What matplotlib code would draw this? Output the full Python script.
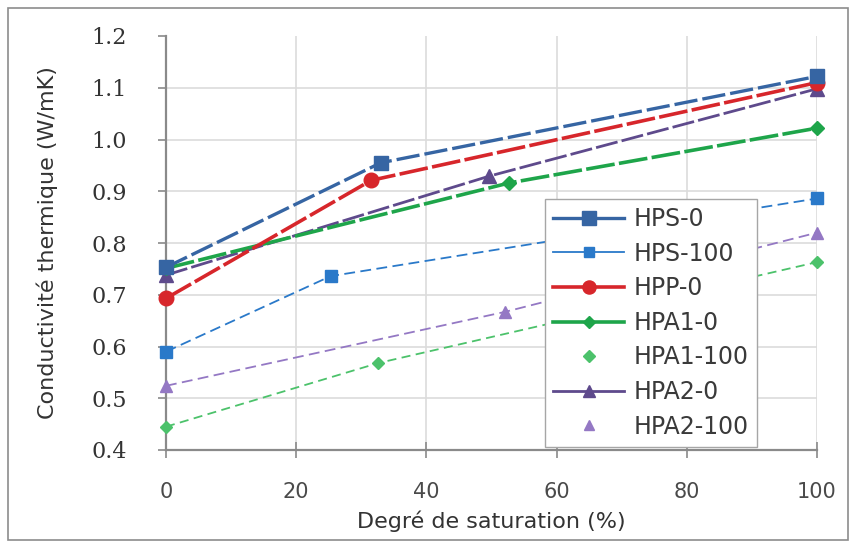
import matplotlib
matplotlib.use("Agg")
import matplotlib.pyplot as plt
from matplotlib.lines import Line2D
from matplotlib.patches import Rectangle

# Thermal conductivity vs. degree of saturation
series_names = ["HPS-0", "HPS-100", "HPP-0", "HPA1-0", "HPA1-100", "HPA2-0", "HPA2-100"]

hps0_x = [0, 33, 100]
hps0_y = [0.753, 0.955, 1.122]
hps100_x = [0, 25.3, 100]
hps100_y = [0.590, 0.736, 0.886]
hpp0_x = [0, 31.5, 100]
hpp0_y = [0.693, 0.921, 1.110]
hpa10_x = [0, 52.7, 100]
hpa10_y = [0.751, 0.916, 1.022]
hpa1100_x = [0, 32.6, 100]
hpa1100_y = [0.445, 0.568, 0.763]
hpa20_x = [0, 49.6, 100]
hpa20_y = [0.738, 0.929, 1.098]
hpa2100_x = [0, 52.1, 100]
hpa2100_y = [0.524, 0.667, 0.820]

x_ticks = [0, 20, 40, 60, 80, 100]
y_ticks = [0.4, 0.5, 0.6, 0.7, 0.8, 0.9, 1.0, 1.1, 1.2]
y_tick_labels = ["0.4", "0.5", "0.6", "0.7", "0.8", "0.9", "1.0", "1.1", "1.2"]

styles = [
    dict(color="#3665A3", marker="s", ms=10.5, lw=2.4, dashes=(7, 1.5), legline=True),
    dict(color="#2A79C9", marker="s", ms=8.0, lw=1.3, dashes=(6, 3), legline=True),
    dict(color="#D7262B", marker="o", ms=10.5, lw=2.6, dashes=(8, 1.2), legline=True),
    dict(color="#1EA54A", marker="D", ms=7.0, lw=2.6, dashes=(8, 1.2), legline=True),
    dict(color="#4CC26B", marker="D", ms=6.5, lw=1.3, dashes=(5, 3), legline=False),
    dict(color="#5E4A8C", marker="^", ms=10.0, lw=2.0, dashes=(8, 1.5), legline=True),
    dict(color="#9478C4", marker="^", ms=8.5, lw=1.3, dashes=(6, 3), legline=False),
]
xs = [hps0_x, hps100_x, hpp0_x, hpa10_x, hpa1100_x, hpa20_x, hpa2100_x]
ys = [hps0_y, hps100_y, hpp0_y, hpa10_y, hpa1100_y, hpa20_y, hpa2100_y]

fig = plt.figure(figsize=(8.55, 5.47), dpi=100)
fig.patch.set_facecolor("white")
fig.add_artist(Rectangle((8 / 855, 1 - 540 / 547), 840 / 855, 532 / 547,
                         transform=fig.transFigure, fill=False,
                         edgecolor="#8c8c8c", lw=1.2))

ax = fig.add_axes([166 / 855, 1 - 450 / 547, 651 / 855, 414 / 547])

order = [5, 3, 2, 0, 1, 6, 4]
for i in order:
    s = styles[i]
    ax.plot(xs[i], ys[i], color=s["color"], lw=s["lw"], dashes=s["dashes"],
            marker=s["marker"], ms=s["ms"], mfc=s["color"], mec=s["color"],
            zorder=3, clip_on=False)

ax.set_xlim(0, 100)
ax.set_ylim(0.4, 1.2)
ax.set_xticks(x_ticks)
ax.set_yticks(y_ticks)
ax.set_yticklabels(y_tick_labels)
ax.grid(True, color="#dcdcdc", lw=1.2)
ax.yaxis.get_gridlines()[-1].set_visible(False)
ax.set_axisbelow(True)
for side in ["top", "right"]:
    ax.spines[side].set_visible(False)
ax.spines["left"].set_color("#8a8a8a")
ax.spines["left"].set_linewidth(1.6)
ax.spines["bottom"].set_color("#8a8a8a")
ax.spines["bottom"].set_linewidth(1.6)

ax.tick_params(axis="y", direction="out", length=6, width=1.2, color="#8a8a8a",
               pad=22, labelsize=16, labelcolor="#333333")
ax.tick_params(axis="x", direction="inout", length=12, width=1.2, color="#8a8a8a",
               pad=17, labelsize=15, labelcolor="#4a4a4a")
for lab in ax.get_yticklabels():
    lab.set_fontfamily("DejaVu Serif")
for lab in ax.get_xticklabels():
    lab.set_fontfamily("DejaVu Sans")

ax.set_xlabel("Degré de saturation (%)", fontsize=16, family="DejaVu Sans",
              color="#333333", labelpad=6)
ax.set_ylabel("Conductivité thermique (W/mK)", fontsize=16, family="DejaVu Sans",
              color="#333333", labelpad=24)

handles = []
for i, s in enumerate(styles):
    handles.append(Line2D([], [], color=s["color"],
                          lw=s["lw"] if s["legline"] else 0,
                          linestyle="-" if s["legline"] else "none",
                          marker=s["marker"], ms=s["ms"] * 0.9,
                          mfc=s["color"], mec=s["color"]))

leg = ax.legend(handles, series_names, loc="upper left",
                bbox_to_anchor=(0.582, 0.607),
                prop={"family": "DejaVu Sans", "size": 17},
                frameon=True, fancybox=False, edgecolor="#a6a6a6",
                framealpha=1, handlelength=3.0, handletextpad=0.4,
                labelspacing=0.45, borderpad=0.35, borderaxespad=0)
leg.get_frame().set_linewidth(1.0)
for t in leg.get_texts():
    t.set_color("#3a3a3a")

fig.savefig("out.png", dpi=100, facecolor="white")
